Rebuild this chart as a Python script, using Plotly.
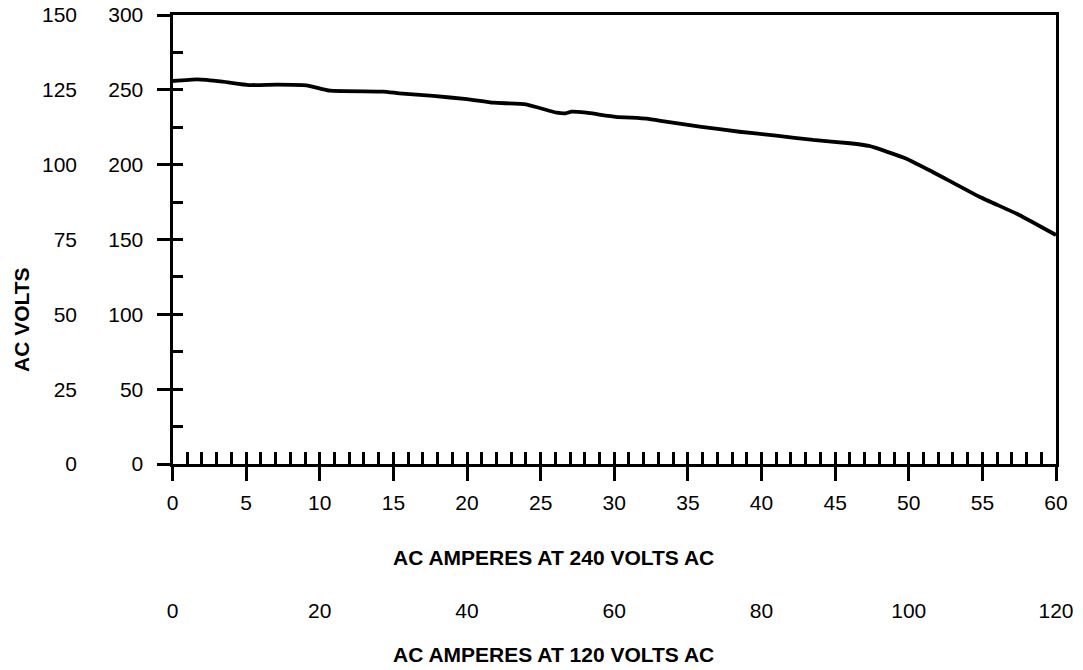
import plotly.graph_objects as go

# Courbe : ampères (240 V) -> volts AC
amps = [0, 1.7, 3.4, 5.2, 7.1, 9.1, 10.7, 14.3, 15.4, 17.7, 20, 21.8, 24,
        26.1, 26.7, 27.1, 28.1, 30.1, 32.2, 33.5, 35.8, 38.5, 41, 43.5, 46,
        47.3, 49.8, 51.6, 54.8, 57.5, 60]
volts = [255.9, 257, 255.5, 253.2, 253.5, 253, 249.4, 248.8, 247.7, 245.9,
         243.8, 241.4, 240.3, 234.7, 234.3, 235.4, 234.7, 232, 230.7, 228.7,
         225.4, 222, 219.4, 216.5, 214.3, 212.5, 204.2, 195.3, 178.6, 166.4, 153]

x240_range = [0, 60]
x120_range = [0, 120]
v240_range = [0, 300]
v120_range = [0, 150]

W, H = 1083, 670
FONT = "Liberation Sans, Arial, sans-serif"
INK = "#000000"


def xp(px):
    return px / W


def yp(py):
    return 1 - py / H


fig = go.Figure()
fig.add_trace(go.Scatter(
    x=amps, y=volts, mode="lines",
    line=dict(color=INK, width=3.8, shape="spline", smoothing=0.4),
    showlegend=False, hoverinfo="skip",
))
# traces vides pour que les axes superposés soient dessinés
for xa, ya in [("x3", "y"), ("x2", "y"), ("x", "y3"), ("x", "y2")]:
    fig.add_trace(go.Scatter(x=[], y=[], xaxis=xa, yaxis=ya,
                             showlegend=False, hoverinfo="skip"))

tickfont = dict(family=FONT, size=21, color=INK)

fig.update_layout(
    width=W, height=H, autosize=False,
    margin=dict(l=0, r=0, t=0, b=0),
    paper_bgcolor="white", plot_bgcolor="white",
    font=dict(family=FONT, color=INK),
    # axe principal : ampères à 240 V
    xaxis=dict(
        domain=[xp(172.5), xp(1056)], range=x240_range, dtick=5, tick0=0,
        showgrid=False, zeroline=False,
        showline=True, linecolor=INK, linewidth=3, mirror=True,
        ticks="outside", ticklen=14, tickwidth=3, tickcolor=INK,
        tickfont=tickfont, ticklabelstandoff=4, automargin=False,
        ticklabeloverflow="allow",
    ),
    # graduations intérieures (pas de 1 A)
    xaxis3=dict(
        overlaying="x", anchor="y", range=x240_range, dtick=1, tick0=0,
        showgrid=False, zeroline=False, showline=False,
        ticks="inside", ticklen=12, tickwidth=3, tickcolor=INK,
        showticklabels=False, automargin=False,
    ),
    # échelle secondaire : ampères à 120 V
    xaxis2=dict(
        overlaying="x", anchor="free", position=yp(596),
        range=x120_range, dtick=20, tick0=0,
        showgrid=False, zeroline=False, showline=False, ticks="",
        tickfont=tickfont, automargin=False, ticklabeloverflow="allow",
    ),
    yaxis=dict(
        domain=[yp(464), yp(15)], range=v240_range, dtick=50, tick0=0,
        showgrid=False, zeroline=False,
        showline=True, linecolor=INK, linewidth=3, mirror=True,
        ticks="outside", ticklen=13, tickwidth=3, tickcolor=INK,
        tickfont=tickfont, ticklabelstandoff=9, automargin=False,
        ticklabeloverflow="allow",
    ),
    yaxis3=dict(
        overlaying="y", anchor="x", side="left", range=v240_range,
        dtick=25, tick0=0,
        showgrid=False, zeroline=False, showline=False,
        ticks="inside", ticklen=10, tickwidth=3, tickcolor=INK,
        showticklabels=False, automargin=False,
    ),
    yaxis2=dict(
        overlaying="y", anchor="free", side="left", position=xp(77),
        range=v120_range, dtick=25, tick0=0,
        showgrid=False, zeroline=False, showline=False, ticks="",
        tickfont=tickfont, automargin=False, ticklabeloverflow="allow",
    ),
)

title_font = dict(family=FONT, size=21, color=INK, weight="bold")
fig.add_annotation(text="AC AMPERES AT 240 VOLTS AC", xref="paper", yref="paper",
                   x=xp(553), y=yp(557), showarrow=False, font=title_font,
                   xanchor="center", yanchor="middle")
fig.add_annotation(text="AC AMPERES AT 120 VOLTS AC", xref="paper", yref="paper",
                   x=xp(553), y=yp(654), showarrow=False, font=title_font,
                   xanchor="center", yanchor="middle")
fig.add_annotation(text="AC VOLTS", xref="paper", yref="paper",
                   x=xp(21), y=yp(320), showarrow=False, font=title_font,
                   textangle=-90, xanchor="center", yanchor="middle")

# supprime la marge par défaut du <body> pour que la figure occupe toute la fenêtre
fig.write_html(
    "out.html",
    config={"displayModeBar": False, "staticPlot": True},
    post_script="document.body.style.margin = '0';",
)
